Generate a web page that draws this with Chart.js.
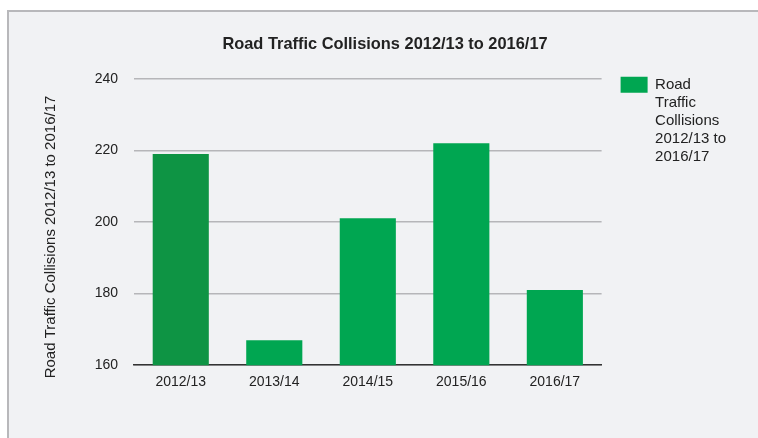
<!DOCTYPE html>
<html>
<head>
<meta charset="utf-8">
<script src="https://cdn.jsdelivr.net/npm/chart.js@4.4.1/dist/chart.umd.min.js"></script>
<style>
  html, body { margin: 0; padding: 0; background: #ffffff; }
  #frame {
    position: absolute; left: 7px; top: 10px; width: 800px; height: 500px;
    background: #f1f2f4; border: 2px solid #b8b8bb;
  }
  #wrap { position: absolute; left: 0; top: 0; width: 758px; height: 438px; }
</style>
</head>
<body>
<div id="frame"></div>
<div id="wrap"><canvas id="chart" width="758" height="438"></canvas></div>
<script>
const seriesName = "Road Traffic Collisions 2012/13 to 2016/17";
const years = ["2012/13", "2013/14", "2014/15", "2015/16", "2016/17"];
const collisions = [219, 167, 201, 222, 181];
const barColors = ["#0e9444", "#00a651", "#00a651", "#00a651", "#00a651"];
const legendLines = ["Road", "Traffic", "Collisions", "2012/13 to", "2016/17"];
const yTicks = { min: 160, max: 240, step: 20 };

const FONT = "'Liberation Sans', Arial, Helvetica, sans-serif";
const TEXT = "#222222";
const ctx = document.getElementById("chart").getContext("2d");

// rotated y-axis title, sits a bit lower than the axis centre like the original
const yTitle = {
    id: "yTitle",
    afterDraw(chart) {
        const c = chart.ctx;
        c.save();
        c.translate(51, 237);
        c.rotate(-Math.PI / 2);
        c.font = "15px " + FONT;
        c.fillStyle = TEXT;
        c.textAlign = "center";
        c.textBaseline = "middle";
        c.fillText(seriesName, 0, 0);
        c.restore();
    }
};

new Chart(ctx, {
    type: "bar",
    data: {
        labels: years,
        datasets: [{
            label: seriesName,
            data: collisions,
            backgroundColor: barColors,
            borderWidth: 0,
            barPercentage: 0.6,
            categoryPercentage: 1.0,
        }]
    },
    options: {
        responsive: false,
        animation: false,
        layout: { padding: { left: 34, right: 22, top: 0, bottom: 38 } },
        plugins: {
            title: {
                display: true,
                text: seriesName,
                color: TEXT,
                font: { family: FONT, size: 16.4, weight: "bold" },
                padding: { top: 35, bottom: 24 },
            },
            legend: {
                position: "right",
                align: "start",
                title: {
                    display: true,
                    text: "",
                    font: { family: FONT, size: 14 },
                    padding: { top: 41, bottom: 0 }
                },
                labels: {
                    color: TEXT,
                    font: { family: FONT, size: 15 },
                    boxWidth: 27,
                    boxHeight: 16,
                    padding: 19,
                    generateLabels() {
                        return [{
                            text: legendLines,
                            fillStyle: "#00a651",
                            strokeStyle: "#00a651",
                            fontColor: TEXT,
                            lineWidth: 0,
                            datasetIndex: 0,
                        }];
                    }
                }
            },
            tooltip: { enabled: false }
        },
        scales: {
            x: {
                grid: { display: false, drawTicks: false },
                border: { display: true, color: "#333333", width: 1.5 },
                ticks: {
                    color: TEXT,
                    padding: 9,
                    font: { family: FONT, size: 14 }
                }
            },
            y: {
                min: yTicks.min,
                max: yTicks.max,
                grid: { color: "#b6b6b9", lineWidth: 1.5, drawTicks: false },
                border: { display: false },
                ticks: {
                    stepSize: yTicks.step,
                    color: TEXT,
                    padding: 16,
                    font: { family: FONT, size: 14 }
                },
                afterFit(scale) { scale.width = 100; }
            }
        }
    },
    plugins: [yTitle]
});
</script>
</body>
</html>
